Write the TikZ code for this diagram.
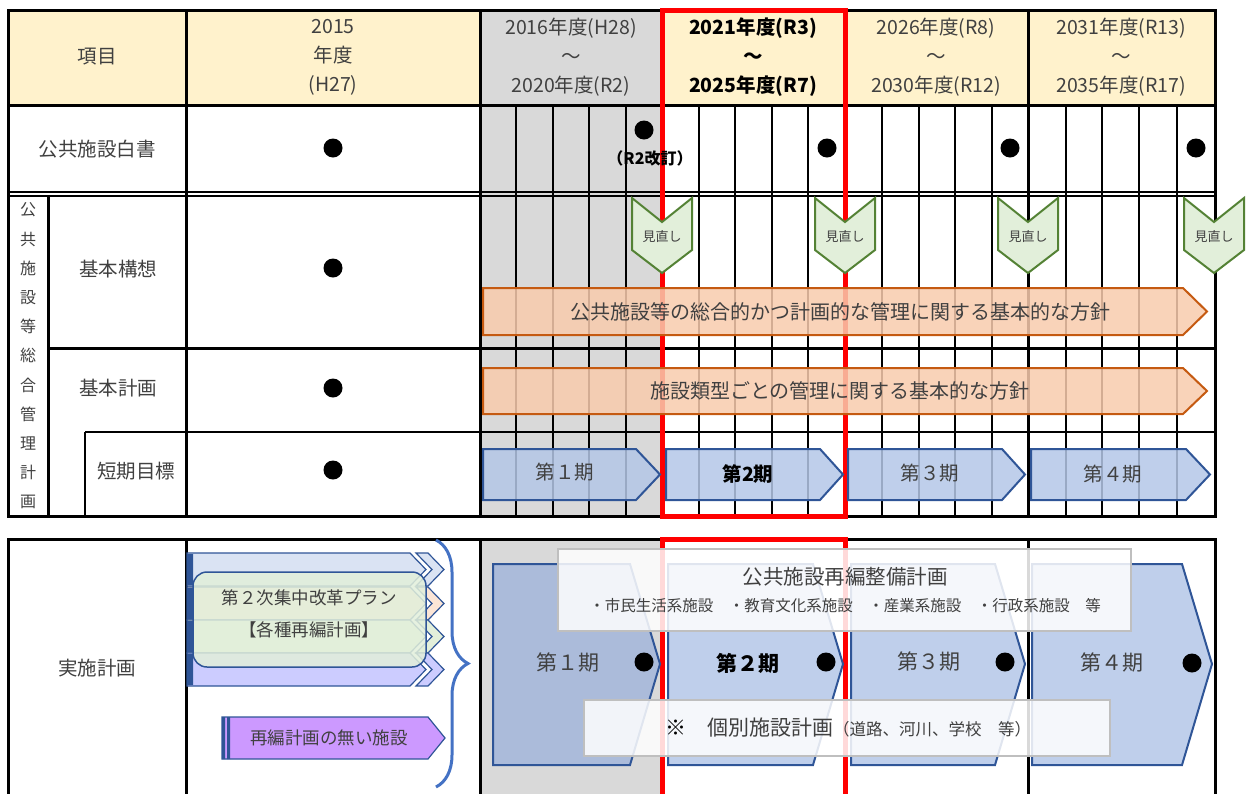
\documentclass[tikz,border=0pt]{standalone}
\usepackage{fontspec}
\setmainfont{Noto Sans CJK JP}
\usepackage{tikz}
\usetikzlibrary{positioning,decorations.pathreplacing}

\definecolor{headyellow}{HTML}{FFF2CC}
\definecolor{pastgray}{HTML}{D9D9D9}
\definecolor{inktext}{HTML}{404040}
\definecolor{phaseblue}{HTML}{B4C7E7}
\definecolor{phasedark}{HTML}{A3B6DB}
\definecolor{phaseedge}{HTML}{2F5597}
\definecolor{policyfill}{HTML}{F8CBAD}
\definecolor{policyedge}{HTML}{C55A11}
\definecolor{reviewfill}{HTML}{E2EFDA}
\definecolor{reviewedge}{HTML}{548235}
\definecolor{bracecol}{HTML}{4472C4}
\definecolor{planblue}{HTML}{DAE3F3}
\definecolor{planpeach}{HTML}{FBE5D6}
\definecolor{planlilac}{HTML}{CCCCFF}
\definecolor{nonplan}{HTML}{CC99FF}
\definecolor{boxedge}{HTML}{BFBFBF}

\tikzset{
	celltext/.style={font=\fontsize{19.5}{29}\selectfont,text=inktext,inner sep=0pt,align=center},
	boldtext/.style={font=\fontsize{19.5}{29}\selectfont\bfseries,text=black,inner sep=0pt,align=center},
	smalltext/.style={font=\fontsize{13}{15}\selectfont,text=inktext,inner sep=0pt},
	listtext/.style={font=\fontsize{15.5}{18}\selectfont,text=inktext,inner sep=0pt},
	thickline/.style={line width=3pt},
	gridline/.style={line width=1.7pt},
	redbox/.style={draw=red,line width=5pt},
	blackdot/.style={circle,fill=black,inner sep=0pt,minimum size=19pt},
	policy/.style={fill=policyfill,fill opacity=0.85,draw=policyedge,line width=2pt},
	phase/.style={fill=phaseblue,fill opacity=0.85,draw=phaseedge,line width=2pt},
	review/.style={fill=reviewfill,draw=reviewedge,line width=2pt},
	stack/.style={draw=phaseedge,line width=1.2pt},
	notebox/.style={fill=white,fill opacity=0.85,draw=boxedge,line width=2pt,inner sep=0pt}
}

\begin{document}
\begin{tikzpicture}[x=1pt,y=-1pt]
	\useasboundingbox (0,0) rectangle (1251,793);

	% cell fills
	\fill[headyellow] (8,10) rectangle (480,105);
	\fill[headyellow] (662,10) rectangle (1215,105);
	\fill[pastgray] (480,10) rectangle (662,516);
	\fill[pastgray] (480,539) rectangle (662,800);

	% year grid
	\draw[gridline] (516,105)--(516,516) (553,105)--(553,516) (589,105)--(589,516) (626,105)--(626,516)
		(699,105)--(699,516) (735,105)--(735,516) (772,105)--(772,516) (808,105)--(808,516)
		(882,105)--(882,516) (919,105)--(919,516) (955,105)--(955,516) (992,105)--(992,516)
		(1066,105)--(1066,516) (1102,105)--(1102,516) (1139,105)--(1139,516) (1177,105)--(1177,516);

	% upper table
	\draw[thickline] (8,10) rectangle (1215,516);
	\draw[thickline] (8,105)--(1215,105);
	\draw[thickline] (186,10)--(186,516) (480,10)--(480,516) (845,10)--(845,516) (1028,10)--(1028,516);
	\draw[gridline] (8,192)--(1215,192) (8,196)--(1215,196);
	\draw[thickline] (48,196)--(48,516) (48,348)--(1215,348);
	\draw[line width=2pt] (85,432)--(1215,432) (85,432)--(85,516);

	% lower table
	\draw[thickline] (8,800)--(8,539)--(1215,539)--(1215,800);
	\draw[thickline] (186,539)--(186,800) (480,539)--(480,800) (1028,539)--(1028,800);

	% current term
	\draw[redbox] (662,10) rectangle (845,516);
	\draw[redbox] (662,810)--(662,539)--(845,539)--(845,810);

	% header
	\node[celltext] (item) at (97,57) {項目};
	\node[celltext] (y2015) at (333,57) {2015\\年度\\(H27)};
	\node[celltext] (y2016) at (571,57) {2016年度(H28)\\～\\2020年度(R2)};
	\node[boldtext] (y2021) at (753,57) {2021年度(R3)\\～\\2025年度(R7)};
	\node[celltext] (y2026) at (936,57) {2026年度(R8)\\～\\2030年度(R12)};
	\node[celltext] (y2031) at (1121,57) {2031年度(R13)\\～\\2035年度(R17)};

	% row titles
	\node[celltext] (whitepaper) at (97,149) {公共施設白書};
	\node[font=\fontsize{16}{29.2}\selectfont,text=inktext,inner sep=0pt,align=center] (overall) at (28,356)
		{公\\共\\施\\設\\等\\総\\合\\管\\理\\計\\画};
	\node[celltext] (concept) at (118,269) {基本構想};
	\node[celltext] (basicplan) at (118,388) {基本計画};
	\node[celltext] (shortterm) at (136,471) {短期目標};
	\node[celltext] (action) at (97,668) {実施計画};

	% 2015 column
	\node[blackdot] (dotA) at (333,148) {};
	\node[blackdot] (dotB) at (333,268) {};
	\node[blackdot] (dotC) at (333,388) {};
	\node[blackdot] (dotD) at (333,470) {};

	% white paper updates
	\node[blackdot] (dotR2) at (644,130) {};
	\node[font=\fontsize{16}{18}\selectfont\bfseries,inner sep=0pt] (revnote) [below=11pt of dotR2,xshift=6pt] {（R2改訂）};
	\node[blackdot] (dotR7) at (827,148) {};
	\node[blackdot] (dotR12) at (1010,148) {};
	\node[blackdot] (dotR17) at (1196,148) {};

	% reviews
	\draw[review] (632,198)--(662,222)--(692,198)--(692,250)--(662,273)--(632,250)--cycle;
	\node[smalltext] (reviewA) at (662,237) {見直し};
	\draw[review] (815,198)--(845,222)--(875,198)--(875,250)--(845,273)--(815,250)--cycle;
	\node[smalltext] (reviewB) at (845,237) {見直し};
	\draw[review] (998,198)--(1028,222)--(1058,198)--(1058,250)--(1028,273)--(998,250)--cycle;
	\node[smalltext] (reviewC) at (1028,237) {見直し};
	\draw[review] (1184,198)--(1214,222)--(1244,198)--(1244,250)--(1214,273)--(1184,250)--cycle;
	\node[smalltext] (reviewD) at (1214,237) {見直し};

	% policies
	\draw[policy] (483,288)--(1183,288)--(1207,311.5)--(1183,335)--(483,335)--cycle;
	\node[celltext,font=\fontsize{20}{24}\selectfont] (policyA) at (840,312) {公共施設等の総合的かつ計画的な管理に関する基本的な方針};
	\draw[policy] (483,368)--(1183,368)--(1207,391)--(1183,414)--(483,414)--cycle;
	\node[celltext,font=\fontsize{20}{24}\selectfont] (policyB) at (840,391) {施設類型ごとの管理に関する基本的な方針};

	% short term phases
	\draw[phase] (483,449)--(636,449)--(660,474.5)--(636,500)--(483,500)--cycle;
	\node[celltext] (termA) at (565,472) {第１期};
	\draw[phase] (666,449)--(820,449)--(843,474.5)--(820,500)--(666,500)--cycle;
	\node[boldtext] (termB) at (748,474) {第2期};
	\draw[phase] (848,449)--(1002,449)--(1025,474.5)--(1002,500)--(848,500)--cycle;
	\node[celltext] (termC) at (930,473) {第３期};
	\draw[phase] (1031,449)--(1186,449)--(1210,474.5)--(1186,500)--(1031,500)--cycle;
	\node[celltext] (termD) at (1113,474) {第４期};

	% plans in force
	\draw[stack,fill=planblue] (187,553)--(410,553)--(426,569.5)--(410,586)--(187,586)--cycle;
	\draw[stack,fill=planblue] (416,553)--(428,553)--(444,569.5)--(428,586)--(416,586)--(432,569.5)--cycle;
	\draw[stack,fill=planpeach] (187,587)--(410,587)--(426,603.5)--(410,620)--(187,620)--cycle;
	\draw[stack,fill=planpeach] (416,587)--(428,587)--(444,603.5)--(428,620)--(416,620)--(432,603.5)--cycle;
	\draw[stack,fill=reviewfill] (187,620)--(410,620)--(426,636.5)--(410,653)--(187,653)--cycle;
	\draw[stack,fill=reviewfill] (416,620)--(428,620)--(444,636.5)--(428,653)--(416,653)--(432,636.5)--cycle;
	\draw[stack,fill=planlilac] (187,653)--(410,653)--(426,669.5)--(410,686)--(187,686)--cycle;
	\draw[stack,fill=planlilac] (416,653)--(428,653)--(444,669.5)--(428,686)--(416,686)--(432,669.5)--cycle;
	\fill[phaseedge] (187,554) rectangle (193,585) (187,588) rectangle (193,619) (187,621) rectangle (193,652) (187,654) rectangle (193,685);
	\draw[draw=phaseedge,line width=1.5pt,fill=reviewfill,fill opacity=0.85,rounded corners=14pt] (193,572) rectangle (426,667);
	\node[font=\fontsize{17.5}{32}\selectfont,text=inktext,inner sep=0pt,align=center] (reform) at (309,614)
		{第２次集中改革プラン\\【各種再編計画】};

	\draw[stack,fill=nonplan] (222,717)--(428,717)--(445,738)--(428,759)--(222,759)--cycle;
	\fill[phaseedge] (222,717) rectangle (225,759) (227,717) rectangle (230,759);
	\node[font=\fontsize{17.5}{20}\selectfont,text=inktext,inner sep=0pt] (noplan) at (329,738) {再編計画の無い施設};

	\coordinate (bracetop) at (436,540);
	\coordinate (bracebot) at (436,787);
	\draw[bracecol,line width=3pt,decorate,decoration={brace,amplitude=32pt}] (bracetop)--(bracebot);

	% implementation phases
	\draw[phase,fill=phasedark] (493,564)--(630,564)--(660,664)--(630,765)--(493,765)--cycle;
	\node[font=\fontsize{21}{24}\selectfont,text=inktext,inner sep=0pt] (phaseA) at (568,663) {第１期};
	\node[blackdot] (endA) at (644,662) {};
	\draw[phase] (668,564)--(813,564)--(843,664)--(813,765)--(668,765)--cycle;
	\node[font=\fontsize{21}{24}\selectfont\bfseries,inner sep=0pt] (phaseB) at (748,663) {第２期};
	\node[blackdot] (endB) at (826,662) {};
	\draw[phase] (851,564)--(995,564)--(1025,664)--(995,765)--(851,765)--cycle;
	\node[font=\fontsize{21}{24}\selectfont,text=inktext,inner sep=0pt] (phaseC) at (929,661) {第３期};
	\node[blackdot] (endC) at (1005,662) {};
	\draw[phase] (1032,564)--(1182,564)--(1212,664)--(1182,765)--(1032,765)--cycle;
	\node[font=\fontsize{21}{24}\selectfont,text=inktext,inner sep=0pt] (phaseD) at (1112,663) {第４期};
	\node[blackdot] (endD) at (1192,663) {};

	% plan notes
	\node[notebox,minimum width=573pt,minimum height=82pt] (reorg) at (844.5,590) {};
	\node[font=\fontsize{20.5}{24}\selectfont,text=inktext,inner sep=0pt] (reorgtitle) at (845,577) {公共施設再編整備計画};
	\node[listtext] (reorglist) [below=12pt of reorgtitle] {・市民生活系施設　・教育文化系施設　・産業系施設　・行政系施設　等};
	\node[notebox,minimum width=526pt,minimum height=56pt] (indiv) at (847,728) {};
	\node[font=\fontsize{21}{24}\selectfont,text=inktext,inner sep=0pt] (indivtext) at (848,728)
		{{\color{black}※}　個別施設計画{\fontsize{16.5}{20}\selectfont（道路、河川、学校　等）}};
\end{tikzpicture}
\end{document}
